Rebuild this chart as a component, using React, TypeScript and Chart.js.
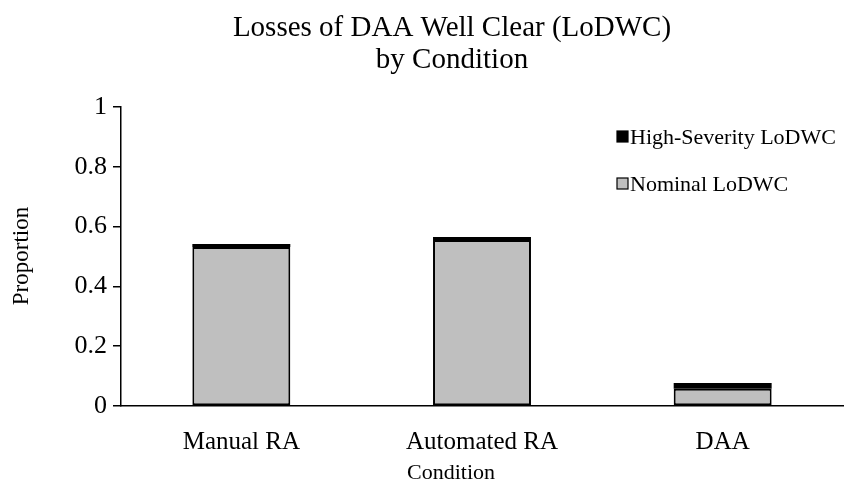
import React, { useEffect, useRef } from "react";
import { Chart, registerables } from "chart.js";

Chart.register(...registerables);

const categories = ["Manual RA", "Automated RA", "DAA"];
const nominalValues = [0.532, 0.555, 0.058];
const highSeverityValues = [0.01, 0.01, 0.019];
const yTicks = [0, 0.2, 0.4, 0.6, 0.8, 1];
const titleLines = ["Losses of DAA Well Clear (LoDWC)", "by Condition"];
const xAxisTitle = "Condition";
const yAxisTitle = "Proportion";

const FONT = "'Liberation Serif', 'Times New Roman', serif";

const overlayPlugin = {
  id: "overlay",
  afterDraw(chart: any) {
    const ctx = chart.ctx;
    ctx.save();
    ctx.fillStyle = "#000";
    // Title
    ctx.font = `29px ${FONT}`;
    ctx.textAlign = "center";
    ctx.textBaseline = "alphabetic";
    ctx.fillText(titleLines[0], 452, 36);
    ctx.fillText(titleLines[1], 452, 68);
    // X axis title
    ctx.font = `22px ${FONT}`;
    ctx.fillText(xAxisTitle, 451, 479);
    // Y axis title
    ctx.font = `23px ${FONT}`;
    ctx.save();
    ctx.translate(28, 256);
    ctx.rotate(-Math.PI / 2);
    ctx.fillText(yAxisTitle, 0, 0);
    ctx.restore();
    // Legend (reverse order, high-severity first)
    const items = [...chart.data.datasets].reverse();
    ctx.font = `22px ${FONT}`;
    ctx.textAlign = "left";
    ctx.textBaseline = "middle";
    items.forEach((ds: any, i: number) => {
      const cy = 137 + i * 47;
      ctx.fillStyle = ds.backgroundColor;
      ctx.fillRect(617, cy - 6, 11, 11);
      ctx.strokeStyle = "#000";
      ctx.lineWidth = 1.2;
      ctx.strokeRect(617, cy - 6, 11, 11);
      ctx.fillStyle = "#000";
      ctx.fillText(ds.label, 630, cy + 1);
    });
    ctx.restore();
  },
};

export default function App() {
  const ref = useRef<HTMLCanvasElement | null>(null);
  useEffect(() => {
    document.body.style.margin = "0";
    const canvas = ref.current!;
    const chart = new Chart(canvas, {
      type: "bar",
      data: {
        labels: categories,
        datasets: [
          {
            label: "Nominal LoDWC",
            data: nominalValues,
            backgroundColor: "#bfbfbf",
            borderColor: "#000",
            borderWidth: 2,
            borderSkipped: false,
            barPercentage: 0.407,
            categoryPercentage: 1,
          },
          {
            label: "High-Severity LoDWC",
            data: highSeverityValues,
            backgroundColor: "#000",
            borderColor: "#000",
            borderWidth: 0,
            barPercentage: 0.407,
            categoryPercentage: 1,
          },
        ],
      },
      options: {
        responsive: false,
        animation: false,
        layout: { padding: { top: 107, right: 1, left: 0, bottom: 0 } },
        plugins: {
          legend: { display: false },
          title: { display: false },
          tooltip: { enabled: false },
        },
        scales: {
          x: {
            stacked: true,
            grid: { display: false },
            border: { display: true, color: "#000", width: 1.5 },
            ticks: {
              color: "#000",
              font: { family: FONT, size: 25 },
              padding: 13,
            },
            afterFit: (s: any) => {
              s.height = 82;
            },
          },
          y: {
            stacked: true,
            min: 0,
            max: 1,
            afterBuildTicks: (s: any) => {
              s.ticks = yTicks.map((v) => ({ value: v }));
            },
            grid: {
              display: true,
              drawOnChartArea: false,
              drawTicks: true,
              tickLength: 8,
              color: "#000",
              lineWidth: 1.5,
            },
            border: { display: true, color: "#000", width: 1.5 },
            ticks: {
              color: "#000",
              font: { family: FONT, size: 26 },
              padding: 6,
              callback: (v: any) => String(v),
            },
            afterFit: (s: any) => {
              s.width = 121;
            },
          },
        },
      },
      plugins: [overlayPlugin],
    });
    return () => chart.destroy();
  }, []);
  return (
    <canvas
      ref={ref}
      width={844}
      height={488}
      style={{ display: "block", width: 844, height: 488 }}
    />
  );
}
